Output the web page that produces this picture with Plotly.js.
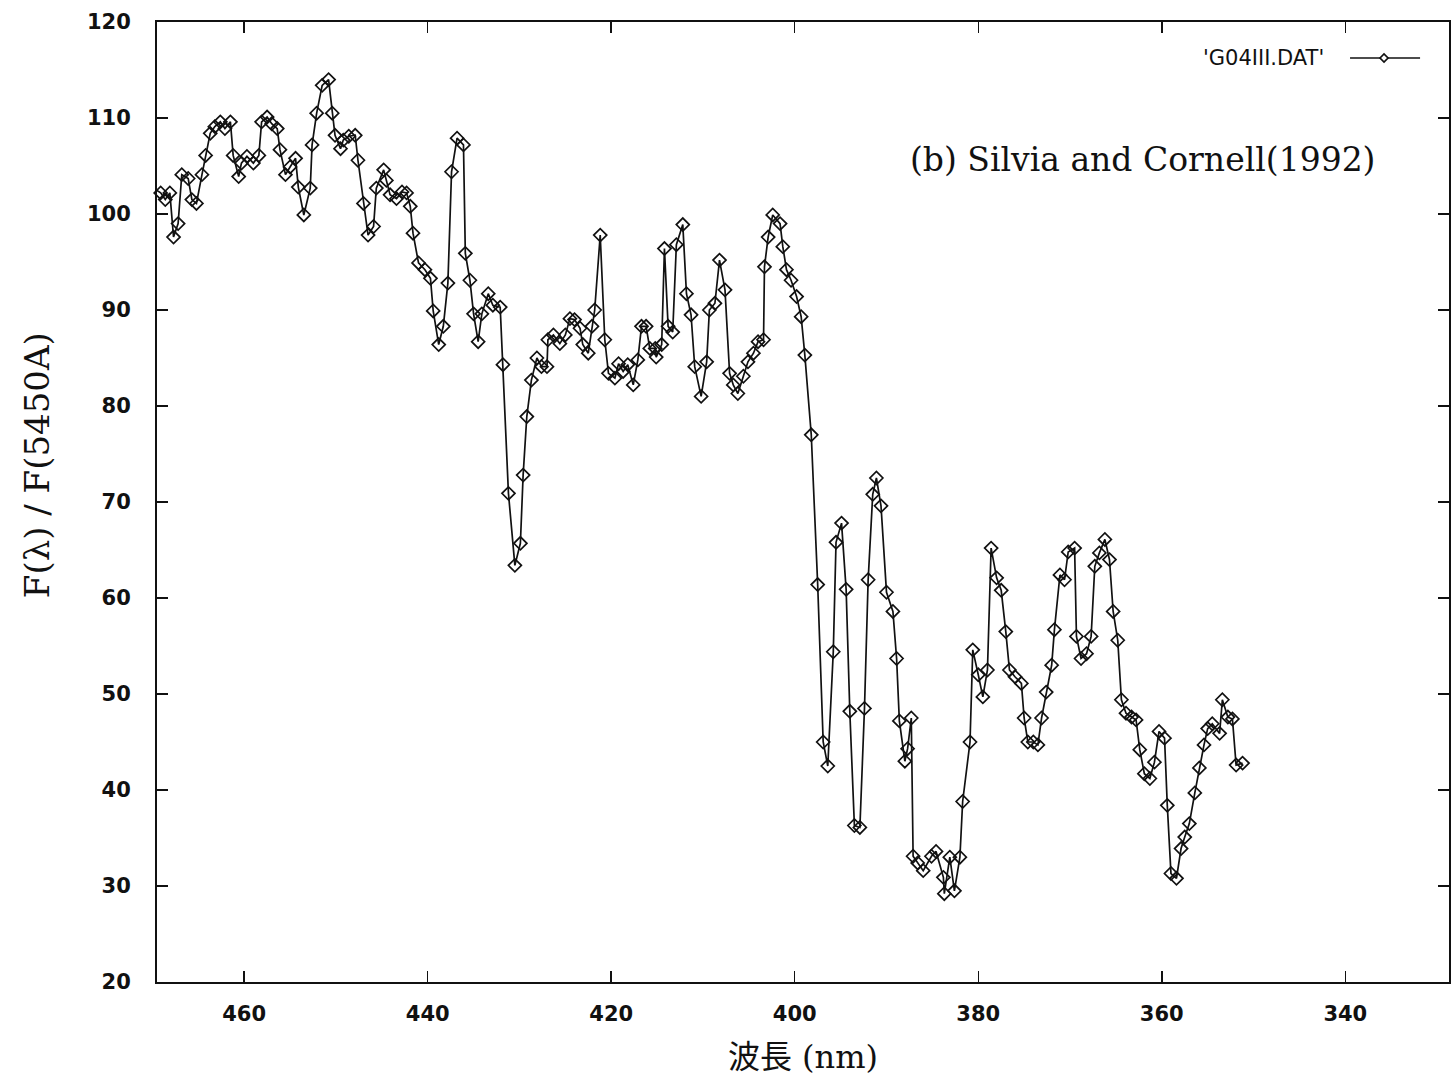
<!DOCTYPE html>
<html>
<head>
<meta charset="utf-8">
<script src="https://cdn.plot.ly/plotly-3.0.1.min.js"></script>
<style>html,body{margin:0;padding:0;background:#fff;}#chart{width:1455px;height:1080px;}</style>
</head>
<body>
<div id="chart"></div>
<script>
// Wavelength (nm)
const wavelength = [
469.9,469.1,468.6,468.1,467.7,467.2,466.8,466.1,465.7,465.2,464.6,464.2,463.7,463.2,462.6,462.1,461.5,461.2,460.6,460.3,
459.7,459.0,458.4,458.1,457.5,457.0,456.4,456.1,455.5,455.0,454.4,454.1,453.5,452.8,452.6,452.1,451.5,450.8,450.4,450.1,
449.5,449.2,448.6,447.9,447.6,447.0,446.5,445.9,445.6,444.8,444.5,444.1,443.4,442.8,442.3,441.9,441.6,441.0,440.3,439.7,
439.4,438.8,438.3,437.8,437.4,436.8,436.1,435.9,435.4,435.0,434.5,434.1,433.4,432.9,432.1,431.8,431.2,430.5,429.9,429.6,
429.2,428.7,428.1,427.6,427.0,426.9,426.3,425.6,425.0,424.5,424.0,423.4,423.1,422.5,422.1,421.8,421.2,420.7,420.3,419.6,
419.2,418.7,418.2,417.6,417.1,416.7,416.2,415.8,415.2,415.1,414.5,414.2,413.8,413.3,412.9,412.2,411.8,411.3,410.9,410.2,
409.6,409.3,408.7,408.2,407.6,407.1,406.7,406.2,405.6,405.1,404.5,404.0,403.4,403.3,402.9,402.4,401.6,401.3,400.9,400.4,
399.8,399.3,398.9,398.2,397.5,396.9,396.4,395.8,395.5,394.9,394.4,394.0,393.5,392.9,392.4,392.0,391.5,391.1,390.6,390.0,
389.3,388.9,388.6,388.0,387.7,387.3,387.1,386.6,386.0,385.1,384.6,383.8,383.7,383.1,382.6,382.0,381.7,380.9,380.6,380.0,
379.5,379.0,378.6,378.0,377.5,377.0,376.6,376.0,375.3,375.0,374.6,374.0,373.5,373.1,372.6,372.0,371.7,371.1,370.6,370.2,
369.5,369.3,368.8,368.2,367.7,367.3,366.8,366.2,365.7,365.3,364.8,364.4,363.9,363.3,362.8,362.4,361.9,361.3,360.8,360.3,
359.7,359.4,359.0,358.4,357.9,357.5,357.0,356.4,355.9,355.4,355.0,354.5,353.7,353.4,352.8,352.3,351.9,351.2
];
// F(lambda)/F(5450A)
const fluxRatio = [
102.7,102.2,101.5,102.2,97.6,99.0,104.1,103.7,101.5,101.1,104.1,106.1,108.4,109.1,109.6,108.9,109.6,106.1,103.9,105.3,
106.0,105.3,106.1,109.6,110.1,109.4,108.9,106.7,104.1,104.9,105.8,102.8,99.9,102.7,107.2,110.5,113.4,114.0,110.5,108.2,
106.8,107.7,108.1,108.2,105.6,101.1,97.8,98.7,102.7,104.6,103.5,102.0,101.6,102.3,102.2,100.8,98.0,94.9,94.2,93.3,
89.9,86.4,88.3,92.8,104.4,107.9,107.2,95.9,93.1,89.6,86.7,89.6,91.7,90.5,90.3,84.3,70.9,63.4,65.7,72.8,
78.9,82.7,85.0,84.1,84.1,86.9,87.4,86.5,87.4,89.1,89.0,88.1,86.4,85.5,88.3,90.0,97.8,86.9,83.4,82.9,
84.4,83.6,84.3,82.2,84.8,88.3,88.3,86.0,86.0,85.1,86.4,96.4,88.3,87.7,96.8,98.9,91.7,89.5,84.1,81.0,
84.6,90.0,90.7,95.2,92.1,83.4,82.2,81.3,83.1,84.6,85.5,86.7,86.9,94.5,97.6,99.9,99.0,96.6,94.2,93.1,
91.4,89.3,85.3,77.0,61.4,45.0,42.5,54.4,65.8,67.8,60.9,48.2,36.3,36.1,48.5,61.9,70.8,72.5,69.6,60.6,
58.6,53.7,47.2,43.0,44.3,47.5,33.1,32.4,31.6,33.1,33.6,30.9,29.2,33.0,29.5,33.0,38.8,45.0,54.6,52.0,
49.7,52.5,65.2,62.1,60.8,56.5,52.5,51.8,51.1,47.5,45.0,45.0,44.7,47.5,50.2,53.0,56.7,62.4,61.9,64.8,
65.2,56.0,53.7,54.2,56.0,63.3,64.7,66.1,64.0,58.6,55.6,49.4,48.0,47.6,47.3,44.2,41.7,41.2,42.9,46.1,
45.4,38.4,31.3,30.8,33.9,35.1,36.5,39.7,42.3,44.7,46.4,46.9,45.9,49.4,47.6,47.4,42.6,42.8
];
const xTicks = [460, 440, 420, 400, 380, 360, 340];
const yTicks = [20, 30, 40, 50, 60, 70, 80, 90, 100, 110, 120];
const seriesName = "'G04III.DAT'";

const trace = {
  x: wavelength, y: fluxRatio, type: 'scatter', mode: 'lines+markers',
  name: seriesName, showlegend: false, cliponaxis: false,
  line: {color: '#111', width: 1.7},
  marker: {symbol: 'diamond-open', size: 10, color: '#111', line: {width: 1.7, color: '#111'}}
};

const tickFont = {family: 'DejaVu Sans, Liberation Sans, sans-serif', size: 21, color: '#111', weight: 'bold'};
const layout = {
  width: 1455, height: 1080,
  margin: {l: 157, r: 6, t: 22, b: 98},
  paper_bgcolor: '#fff', plot_bgcolor: '#fff',
  showlegend: false,
  xaxis: {
    range: [469.5, 328.7], tickvals: xTicks, ticktext: xTicks.map(String),
    ticks: 'inside', ticklen: 11, tickwidth: 1.5, tickcolor: '#111',
    showline: true, linecolor: '#111', linewidth: 2, mirror: 'allticks',
    showgrid: false, zeroline: false, tickfont: tickFont, ticklabelstandoff: 12,
    title: {text: '波長 (nm)', font: {family: 'DejaVu Serif, Noto Sans CJK JP, serif', size: 32, color: '#111'}, standoff: 20}
  },
  yaxis: {
    range: [20, 120], tickvals: yTicks, ticktext: yTicks.map(String),
    ticks: 'inside', ticklen: 11, tickwidth: 1.5, tickcolor: '#111',
    showline: true, linecolor: '#111', linewidth: 2, mirror: 'allticks',
    showgrid: false, zeroline: false, tickfont: tickFont, ticklabelstandoff: 20,
    title: {text: ''}
  },
  annotations: [
    {xref: 'paper', yref: 'paper', x: -0.0928, y: 0.5385, xanchor: 'center', yanchor: 'middle', textangle: -90,
     text: 'F(λ) / F(5450A)', showarrow: false,
     font: {family: 'DejaVu Serif, serif', size: 34, color: '#111'}},
    {xref: 'paper', yref: 'paper', x: 0.945, y: 0.857, xanchor: 'right', yanchor: 'middle',
     text: '(b) Silvia and Cornell(1992)', showarrow: false,
     font: {family: 'DejaVu Serif, serif', size: 33, color: '#111'}},
    {xref: 'paper', yref: 'paper', x: 0.8561, y: 0.9625, xanchor: 'center', yanchor: 'middle',
     text: seriesName, showarrow: false,
     font: {family: 'DejaVu Sans, sans-serif', size: 21, color: '#111'}}
  ],
  shapes: [
    {type: 'line', xref: 'paper', yref: 'paper', x0: 0.9234, x1: 0.9776, y0: 0.9625, y1: 0.9625, line: {color: '#111', width: 1.7}},
    {type: 'path', xref: 'paper', yref: 'paper',
     path: 'M 0.9466 0.9625 L 0.9497 0.9667 L 0.9528 0.9625 L 0.9497 0.9583 Z',
     fillcolor: '#fff', line: {color: '#111', width: 1.7}}
  ]
};

Plotly.newPlot('chart', [trace], layout, {displayModeBar: false, staticPlot: true});
</script>
</body>
</html>
